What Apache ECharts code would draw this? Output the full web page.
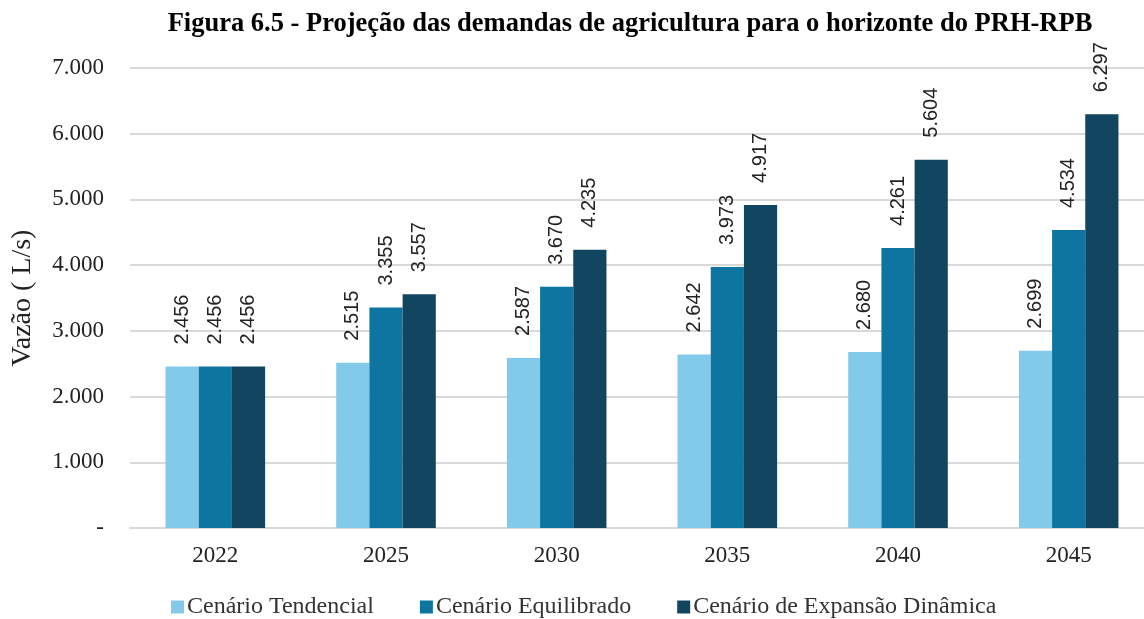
<!DOCTYPE html>
<html><head><meta charset="utf-8">
<script src="https://cdn.jsdelivr.net/npm/echarts@6/dist/echarts.min.js"></script>
<style>html,body{margin:0;padding:0;background:#fff;}#c{width:1144px;height:619px;}</style>
</head><body><div id="c"></div>
<script>
const categories = ['2022','2025','2030','2035','2040','2045'];
const tendencial = [2456, 2515, 2587, 2642, 2680, 2699];
const equilibrado = [2456, 3355, 3670, 3973, 4261, 4534];
const expansao = [2456, 3557, 4235, 4917, 5604, 6297];
const seriesNames = ['Cenário Tendencial', 'Cenário Equilibrado', 'Cenário de Expansão Dinâmica'];
const colors = ['#82CAEA', '#0E75A0', '#124660'];

const serif = '"Liberation Serif", "Times New Roman", serif';
const fmt = v => v === 0 ? '-' : (v/1000).toFixed(3);
const chart = echarts.init(document.getElementById('c'));
const lbl = {
  show: true, position: 'top', rotate: 90, align: 'left', verticalAlign: 'middle',
  distance: 22, fontFamily: '"Liberation Sans", Arial, sans-serif', fontSize: 20, color: '#222',
  formatter: p => fmt(p.value)
};
const mk = (name, data, i) => ({
  name, type: 'bar', data, barWidth: 33.2, barGap: '0%',
  itemStyle: { color: colors[i] }, label: lbl
});
chart.setOption({
  animation: false,
  title: {
    text: 'Figura 6.5 - Projeção das demandas de agricultura para o horizonte do PRH-RPB',
    left: 625, textAlign: 'center', top: 6,
    textStyle: { fontFamily: serif, fontWeight: 'bold', fontSize: 26.5, color: '#000' }
  },
  legend: {
    top: 590, left: 166, itemWidth: 13, itemHeight: 13, itemGap: 46, icon: 'rect',
    textStyle: { fontFamily: serif, fontSize: 24, color: '#333', padding: [0,0,0,-2] },
    data: seriesNames
  },
  grid: { left: 130, right: -10, top: 68, bottom: 91, outerBoundsMode: 'none', containLabel: false },
  xAxis: {
    type: 'category', data: categories,
    axisTick: { show: false },
    axisLine: { lineStyle: { color: '#d9d9d9', width: 2 } },
    axisLabel: { fontFamily: serif, fontSize: 23, color: '#222', margin: 16 }
  },
  yAxis: {
    type: 'value', min: 0, max: 7000, interval: 1000,
    name: 'Vazão ( L/s)', nameLocation: 'middle', nameGap: 93, nameRotate: 90,
    nameTextStyle: { fontFamily: serif, fontSize: 28, color: '#222' },
    axisLine: { show: false }, axisTick: { show: false },
    splitLine: { lineStyle: { color: '#d9d9d9', width: 2 } },
    axisLabel: { fontFamily: serif, fontSize: 23, color: '#222', margin: 26, formatter: fmt }
  },
  series: [mk(seriesNames[0], tendencial, 0), mk(seriesNames[1], equilibrado, 1), mk(seriesNames[2], expansao, 2)]
});
</script></body></html>
